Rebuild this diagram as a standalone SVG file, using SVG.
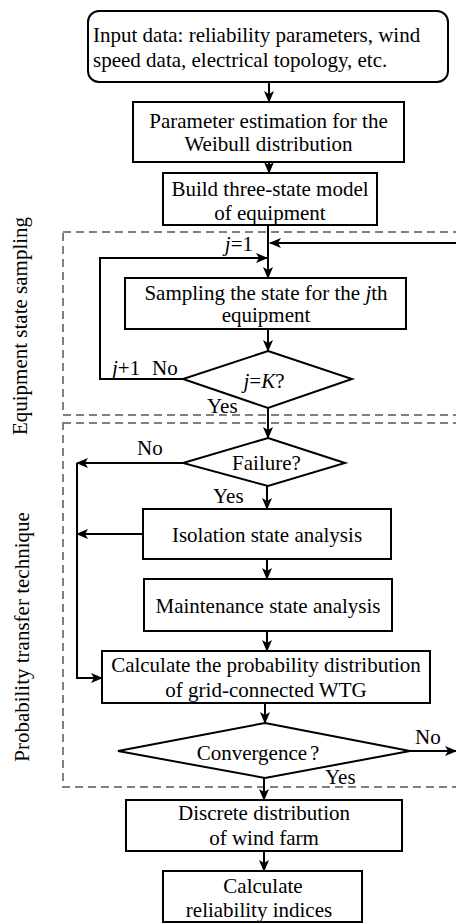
<svg xmlns="http://www.w3.org/2000/svg" width="456" height="923" viewBox="0 0 456 923" font-family="'Liberation Serif', 'Times New Roman', Tinos, 'DejaVu Serif', serif" font-size="21">
<style>
text{font-family:'Liberation Serif','Times New Roman',Tinos,'DejaVu Serif',serif;font-size:21px;fill:#000}
.c{text-anchor:middle}
.b{fill:#fff;stroke:#000;stroke-width:2}
.d{fill:none;stroke:#808080;stroke-width:2;stroke-dasharray:8 5}
.l{fill:none;stroke:#000;stroke-width:2}
.a{marker-end:url(#ah)}
</style>
<defs>
<marker id="ah" viewBox="0 0 12 10" refX="11" refY="5" markerWidth="12" markerHeight="10" markerUnits="userSpaceOnUse" orient="auto">
<path d="M0,0 L12,5 L0,10 L3,5 z" fill="#000"/>
</marker>
</defs>
<rect width="456" height="923" fill="#fff"/>
<g id="regions">
<rect class="d" x="63" y="232" width="400" height="183"/>
<rect class="d" x="63" y="423" width="400" height="364"/>
<text transform="translate(27,326) rotate(-90)" class="c">Equipment state sampling</text>
<text transform="translate(29,637) rotate(-90)" class="c">Probability transfer technique</text>
</g>
<g id="connectors">
<line class="l a" x1="269" y1="82" x2="269" y2="102"/>
<line class="l a" x1="269" y1="162" x2="269" y2="173"/>
<line class="l a" x1="268" y1="225" x2="268" y2="278"/>
<line class="l a" x1="456" y1="243" x2="270" y2="243"/>
<polyline class="l a" points="183,379 100,379 100,258 267,258"/>
<line class="l a" x1="268" y1="329" x2="268" y2="351"/>
<line class="l a" x1="268" y1="408" x2="268" y2="438"/>
<line class="l a" x1="183" y1="463" x2="77" y2="463"/>
<line class="l a" x1="267" y1="486" x2="267" y2="509"/>
<line class="l a" x1="143" y1="534" x2="77" y2="534"/>
<polyline class="l a" points="77,463 77,678 102,678"/>
<line class="l a" x1="267" y1="559" x2="267" y2="579"/>
<line class="l a" x1="267" y1="631" x2="267" y2="651"/>
<line class="l a" x1="265" y1="703" x2="265" y2="723"/>
<line class="l a" x1="410" y1="751" x2="456" y2="751"/>
<line class="l a" x1="264" y1="778" x2="264" y2="800"/>
<line class="l a" x1="264" y1="851" x2="264" y2="871"/>
<text x="253" y="251" text-anchor="end"><tspan font-style="italic">j</tspan>=1</text>
<text x="112" y="375"><tspan font-style="italic">j</tspan>+1</text>
<text x="152" y="375">No</text>
<text x="207" y="413">Yes</text>
<text x="137" y="455">No</text>
<text x="213" y="503">Yes</text>
<text x="415" y="744">No</text>
<text x="325" y="784">Yes</text>
</g>
<g id="n_input">
<rect class="b" x="88" y="11" width="360" height="71" rx="11"/>
<text x="93" y="42">Input data: reliability parameters, wind</text>
<text x="93" y="67">speed data, electrical topology, etc.</text>
</g>
<g id="n_param">
<rect class="b" x="133" y="102" width="271" height="60"/>
<text class="c" x="268.5" y="128">Parameter estimation for the</text>
<text class="c" x="268.5" y="151">Weibull distribution</text>
</g>
<g id="n_build">
<rect class="b" x="163" y="173" width="214" height="52"/>
<text class="c" x="270" y="196">Build three-state model</text>
<text class="c" x="270" y="220">of equipment</text>
</g>
<g id="n_sampling">
<rect class="b" x="125" y="278" width="281" height="51"/>
<text class="c" x="266" y="300">Sampling the state for the <tspan font-style="italic">j</tspan>th</text>
<text class="c" x="266" y="322">equipment</text>
</g>
<g id="n_jk">
<polygon class="b" points="268,351 352,379 268,408 183,379"/>
<text class="c" x="264" y="388"><tspan font-style="italic">j</tspan>=<tspan font-style="italic">K</tspan>?</text>
</g>
<g id="n_failure">
<polygon class="b" points="268,438 345,463 268,486 183,463"/>
<text class="c" x="266.5" y="470">Failure?</text>
</g>
<g id="n_isolation">
<rect class="b" x="143" y="509" width="248" height="50"/>
<text class="c" x="267" y="542">Isolation state analysis</text>
</g>
<g id="n_maintenance">
<rect class="b" x="144" y="579" width="248" height="52"/>
<text class="c" x="268" y="613">Maintenance state analysis</text>
</g>
<g id="n_calc">
<rect class="b" x="102" y="651" width="328" height="52"/>
<text class="c" x="266" y="672">Calculate the probability distribution</text>
<text class="c" x="266" y="697">of grid-connected WTG</text>
</g>
<g id="n_conv">
<polygon class="b" points="265,723 410,751 265,778 118,751"/>
<text class="c" x="258" y="760">Convergence<tspan dx="3">?</tspan></text>
</g>
<g id="n_discrete">
<rect class="b" x="126" y="800" width="276" height="51"/>
<text class="c" x="264" y="820">Discrete distribution</text>
<text class="c" x="264" y="845">of wind farm</text>
</g>
<g id="n_indices">
<rect class="b" x="163" y="871" width="199" height="51"/>
<text class="c" x="263" y="893">Calculate</text>
<text class="c" x="259" y="917">reliability indices</text>
</g>
</svg>
